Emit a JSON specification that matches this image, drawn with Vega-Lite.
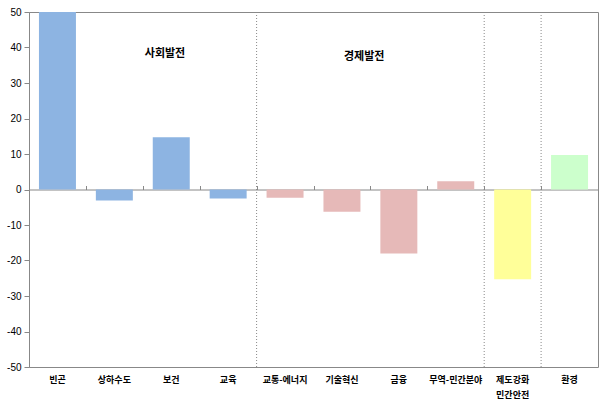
{
  "$schema": "https://vega.github.io/schema/vega-lite/v6.json",
  "width": 569,
  "height": 355,
  "autosize": {"type": "none"},
  "padding": {"left": 29, "top": 12, "right": 10, "bottom": 41},
  "background": "white",
  "config": {
    "view": {"stroke": "#888888", "strokeWidth": 1},
    "font": "Liberation Sans",
    "axisY": {
      "title": null,
      "grid": false,
      "values": [-50, -40, -30, -20, -10, 0, 10, 20, 30, 40, 50],
      "labelOverlap": false,
      "labelExpr": "datum.value < 0 ? '-' + abs(datum.value) : '' + datum.value",
      "domainColor": "#888888",
      "tickColor": "#888888",
      "tickSize": 5,
      "labelPadding": 3,
      "labelFontSize": 10,
      "labelColor": "#000000"
    }
  },
  "datasets": {
    "bars": [
      {"cat": "빈곤", "value": 50, "group": "사회발전"},
      {"cat": "상하수도", "value": -3.1, "group": "사회발전"},
      {"cat": "보건", "value": 14.7, "group": "사회발전"},
      {"cat": "교육", "value": -2.5, "group": "사회발전"},
      {"cat": "교통-에너지", "value": -2.3, "group": "경제발전"},
      {"cat": "기술혁신", "value": -6.3, "group": "경제발전"},
      {"cat": "금융", "value": -18.0, "group": "경제발전"},
      {"cat": "무역-민간분야", "value": 2.3, "group": "경제발전"},
      {"cat": "제도강화|민간안전", "value": -25.3, "group": "제도강화"},
      {"cat": "환경", "value": 9.7, "group": "환경"}
    ],
    "dividers": [
      {"cat": "교통-에너지"},
      {"cat": "제도강화|민간안전"},
      {"cat": "환경"}
    ]
  },
  "layer": [
    {
      "data": {"name": "bars"},
      "mark": {"type": "bar", "width": {"band": 0.65}},
      "encoding": {
        "x": {
          "field": "cat",
          "type": "nominal",
          "scale": {
            "domain": ["빈곤", "상하수도", "보건", "교육", "교통-에너지", "기술혁신", "금융", "무역-민간분야", "제도강화|민간안전", "환경"],
            "paddingInner": 0,
            "paddingOuter": 0
          },
          "axis": {
            "orient": "bottom",
            "title": null,
            "domain": false,
            "ticks": false,
            "labelAngle": 0,
            "labelPadding": 8,
            "labelFont": "Noto Sans CJK KR",
            "labelFontSize": 9,
            "labelFontWeight": "bold",
            "labelColor": "#000000",
            "labelLineHeight": 15,
            "labelExpr": "split(datum.label, '|')"
          }
        },
        "y": {
          "field": "value",
          "type": "quantitative",
          "title": null,
          "scale": {"domain": [-50, 50], "nice": false, "clamp": true}
        },
        "color": {
          "field": "group",
          "type": "nominal",
          "scale": {
            "domain": ["사회발전", "경제발전", "제도강화", "환경"],
            "range": ["#8DB4E2", "#E6B9B8", "#FFFF99", "#CCFFCC"]
          },
          "legend": null
        }
      }
    },
    {
      "data": {"name": "bars"},
      "mark": {"type": "tick", "opacity": 0},
      "encoding": {
        "x": {
          "field": "cat",
          "type": "nominal",
          "axis": {
            "orient": "top",
            "offset": -177.5,
            "title": null,
            "labels": false,
            "tickBand": "extent",
            "tickSize": 4,
            "tickColor": "#888888",
            "domainColor": "#888888"
          }
        }
      }
    },
    {
      "data": {"name": "dividers"},
      "mark": {"type": "rule", "color": "#888888", "strokeDash": [1, 2], "strokeWidth": 1},
      "encoding": {
        "x": {"field": "cat", "type": "nominal", "bandPosition": 0, "axis": null}
      }
    },
    {
      "data": {"values": [{"cat": "보건", "y": 38.1, "label": "사회발전"}]},
      "mark": {"type": "text", "font": "Noto Sans CJK KR", "fontSize": 11, "fontWeight": "bold", "color": "#000000"},
      "encoding": {
        "x": {"field": "cat", "type": "nominal", "bandPosition": 0.39, "axis": null},
        "y": {"field": "y", "type": "quantitative", "title": null},
        "text": {"field": "label"}
      }
    },
    {
      "data": {"values": [{"cat": "기술혁신", "y": 37.2, "label": "경제발전"}]},
      "mark": {"type": "text", "font": "Noto Sans CJK KR", "fontSize": 11, "fontWeight": "bold", "color": "#000000"},
      "encoding": {
        "x": {"field": "cat", "type": "nominal", "bandPosition": 0.89, "axis": null},
        "y": {"field": "y", "type": "quantitative", "title": null},
        "text": {"field": "label"}
      }
    }
  ],
  "resolve": {"axis": {"x": "independent"}}
}
